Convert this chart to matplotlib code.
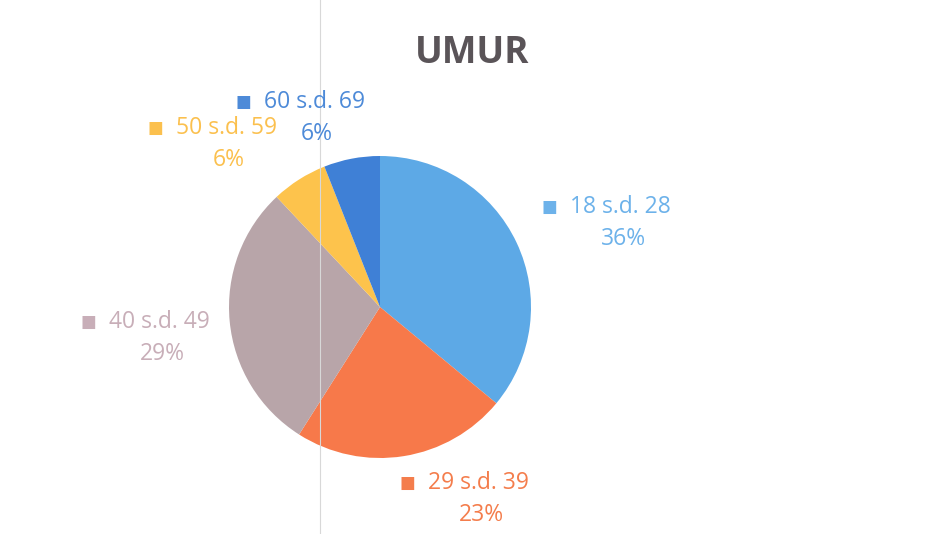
import matplotlib
matplotlib.use("Agg")
import matplotlib.pyplot as plt

categories = ["18 s.d. 28", "29 s.d. 39", "40 s.d. 49", "50 s.d. 59", "60 s.d. 69"]
values = [36, 23, 29, 6, 6]
pct_labels = ["36%", "23%", "29%", "6%", "6%"]
colors = ["#5DA9E6", "#F7794A", "#B8A5A9", "#FDC34C", "#3F80D6"]
label_colors = ["#6DB2EA", "#F47D4C", "#C8AEB8", "#FBC04E", "#4D8AD8"]

W, H = 930, 534
fig = plt.figure(figsize=(W / 100, H / 100), dpi=100)
fig.patch.set_facecolor("white")

cx, cy, r = 380, 307, 151
ax = fig.add_axes([(cx - r) / W, (H - cy - r) / H, 2 * r / W, 2 * r / H])
ax.pie(values, colors=colors, startangle=90, counterclock=False, radius=1,
       wedgeprops=dict(linewidth=0))
ax.set_xlim(-1, 1)
ax.set_ylim(-1, 1)
ax.set_aspect("equal")
ax.axis("off")

font = ["Open Sans", "DejaVu Sans"]
fig.text(472 / W, 1 - 53 / H, "UMUR", ha="center", va="center", fontsize=26.5,
         fontweight="bold", color="#5A5458", family=font)

# label anchor: (square x, text row y) in pixels
label_pos = [(549, 207), (407, 483), (88, 322), (155, 128), (243, 102)]
for cat, pct, col, (sx, sy) in zip(categories, pct_labels, label_colors, label_pos):
    fig.text(sx / W, 1 - sy / H, "■", ha="center", va="center", fontsize=12,
             color=col, family=["DejaVu Sans"])
    fig.text((sx + 21) / W, 1 - sy / H, cat, ha="left", va="center", fontsize=16.5,
             color=col, family=font)
    fig.text((sx + 74) / W, 1 - (sy + 32) / H, pct, ha="center", va="center",
             fontsize=16.5, color=col, family=font)

# faint scan line
fig.add_artist(plt.Line2D([320 / W, 320 / W], [0, 1], transform=fig.transFigure,
                          color="#D8D8D8", linewidth=0.8))

fig.savefig("out.png", dpi=100, facecolor="white")
